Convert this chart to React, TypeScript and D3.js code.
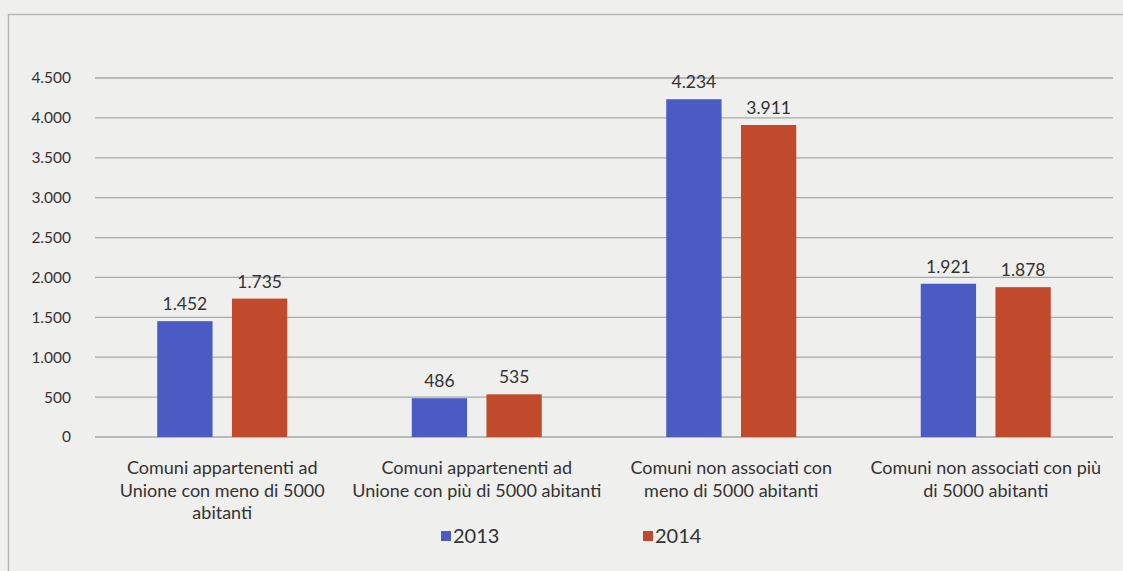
import React from "react";
import * as d3 from "d3";

const categories: string[][] = [
  ["Comuni appartenenti ad", "Unione con meno di 5000", "abitanti"],
  ["Comuni appartenenti ad", "Unione con più di 5000 abitanti"],
  ["Comuni non associati con", "meno di 5000 abitanti"],
  ["Comuni non associati con più", "di 5000 abitanti"],
];
const seriesNames = ["2013", "2014"];
const values2013 = [1452, 486, 4234, 1921];
const values2014 = [1735, 535, 3911, 1878];
const yTicks = [0, 500, 1000, 1500, 2000, 2500, 3000, 3500, 4000, 4500];
const colors = ["#4a5bc3", "#c04a2b"];

const W = 1123;
const H = 571;
const FONT = "Lato, 'Open Sans', sans-serif";

const fmt = (v: number) => d3.format(",")(v).replace(/,/g, ".");

export default function App() {
  const x0 = 95, x1 = 1113, yTop = 78, yBot = 437;
  const x = d3.scaleBand<number>().domain([0, 1, 2, 3]).range([x0, x1]).paddingInner(0).paddingOuter(0);
  const y = d3.scaleLinear().domain([0, 4500]).range([yBot, yTop]);
  const inner = d3.scaleBand<number>().domain([0, 1]).range([0, 130]).paddingInner(0.26);
  const series = [values2013, values2014];
  const groupW = 130;

  return (
    <svg width={W} height={H} style={{ position: "absolute", left: 0, top: 0, display: "block" }}>
      <rect x={0} y={0} width={W} height={H} fill="#efefed" />
      <line x1={8} x2={W} y1={14.5} y2={14.5} stroke="#b8b8b8" strokeWidth={1.5} />
      <line x1={8.5} x2={8.5} y1={14} y2={H} stroke="#b8b8b8" strokeWidth={1.5} />
      {yTicks.map((t) => (
        <g key={t}>
          <line x1={x0} x2={x1} y1={y(t)} y2={y(t)} stroke="#a9a9a9" strokeWidth={1.3} />
          <text x={71} y={y(t)} dy="0.35em" textAnchor="end" fontFamily={FONT} fontSize={15.5} fill="#333">
            {fmt(t)}
          </text>
        </g>
      ))}
      {categories.map((_, i) => {
        const gx = (x(i) as number) + (x.bandwidth() - groupW) / 2;
        return (
          <g key={i}>
            {series.map((s, j) => {
              const bx = gx + (inner(j) as number);
              const bw = inner.bandwidth();
              return (
                <g key={j}>
                  <rect x={bx} y={y(s[i])} width={bw} height={yBot - y(s[i])} fill={colors[j]} />
                  <text x={bx + bw / 2} y={y(s[i]) - 11} textAnchor="middle" fontFamily={FONT} fontSize={17.5} fill="#333">
                    {fmt(s[i])}
                  </text>
                </g>
              );
            })}
          </g>
        );
      })}
      {categories.map((lines, i) => (
        <text key={i} textAnchor="middle" fontFamily={FONT} fontSize={18} fill="#333">
          {lines.map((l, k) => (
            <tspan key={k} x={(x(i) as number) + x.bandwidth() / 2} y={474 + k * 22.5}>
              {l}
            </tspan>
          ))}
        </text>
      ))}
      {seriesNames.map((n, j) => {
        const lx = j === 0 ? 441 : 643;
        return (
          <g key={n}>
            <rect x={lx} y={531} width={10} height={10} fill={colors[j]} />
            <text x={lx + 12} y={543} fontFamily={FONT} fontSize={20} fill="#333">
              {n}
            </text>
          </g>
        );
      })}
    </svg>
  );
}
